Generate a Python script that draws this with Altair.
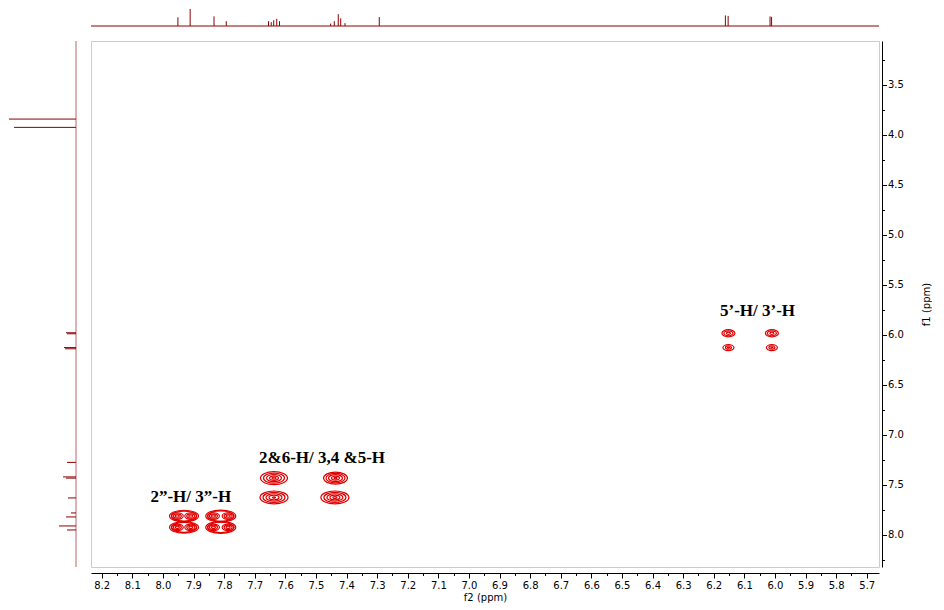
import altair as alt
import pandas as pd

# ---------------- data ----------------
F2_DOMAIN = [5.66, 8.235]     # ppm, shown reversed (high ppm on the left)
F1_DOMAIN = [3.065, 8.32]     # ppm, shown top -> bottom

# top 1D projection (f2): peak positions (ppm) and heights (arb.)
top_ppm = [7.951, 7.911, 7.833, 7.793,
           7.655, 7.646, 7.638, 7.628, 7.619,
           7.452, 7.440, 7.427, 7.419, 7.405,
           7.293, 6.162, 6.153, 6.016, 6.011]
top_int = [9.0, 17.7, 10.0, 5.0,
           5.0, 4.0, 6.0, 7.5, 5.0,
           2.5, 5.0, 12.3, 8.0, 3.0,
           9.3, 11.0, 10.5, 10.0, 9.5]

# left 1D projection (f1)
left_ppm = [3.845, 3.928, 5.980, 5.990, 6.128, 6.140, 7.275,
            7.420, 7.432, 7.630, 7.780, 7.820, 7.910, 7.950]
left_int = [67, 62, 10, 9, 12, 11, 9,
            13, 10, 8, 5, 10, 17, 9]

# COSY cross peaks: centre f2, centre f1, contour aspect, contour widths
cp_f2 = [7.637, 7.637, 7.436, 7.438,
         6.152, 6.010, 6.152, 6.010,
         7.931, 7.931, 7.811, 7.811,
         7.953, 7.909, 7.953, 7.909, 7.835, 7.787, 7.835, 7.787]
cp_f1 = [7.432, 7.625, 7.432, 7.625,
         5.985, 5.985, 6.128, 6.128,
         7.811, 7.924, 7.811, 7.924,
         7.811, 7.811, 7.924, 7.924, 7.811, 7.811, 7.924, 7.924]
cp_aspect = [0.48, 0.46, 0.50, 0.46,
             0.55, 0.55, 0.55, 0.55,
             0.40, 0.40, 0.40, 0.40,
             0.55, 0.55, 0.55, 0.55, 0.55, 0.55, 0.55, 0.55]
cp_levels = [[27, 21, 15, 9, 4], [28, 22, 16, 10, 3], [24, 19, 14, 8, 3], [28, 22, 16, 10, 4],
             [13, 9, 4], [13, 9, 4], [11, 6, 2], [11, 6, 2],
             [29, 25], [29, 25], [30, 26], [30, 26],
             [12, 8, 4], [12, 8, 4], [12, 8, 4], [12, 8, 4],
             [12, 8, 4], [12, 8, 4], [12, 8, 4], [12, 8, 4]]

lab_text = ["2\u201d-H/ 3\u201d-H", "2&6-H/ 3,4 &5-H", "5\u2019-H/ 3\u2019-H"]
lab_f2 = [7.909, 7.480, 6.057]
lab_f1 = [7.624, 7.234, 5.760]

# axis ticks: labelled (major) and unlabelled (minor)
x_major = [8.2, 8.1, 8.0, 7.9, 7.8, 7.7, 7.6, 7.5, 7.4, 7.3, 7.2, 7.1, 7.0, 6.9,
           6.8, 6.7, 6.6, 6.5, 6.4, 6.3, 6.2, 6.1, 6.0, 5.9, 5.8, 5.7]
x_minor = [8.15, 8.05, 7.95, 7.85, 7.75, 7.65, 7.55, 7.45, 7.35, 7.25, 7.15, 7.05,
           6.95, 6.85, 6.75, 6.65, 6.55, 6.45, 6.35, 6.25, 6.15, 6.05, 5.95, 5.85, 5.75]
y_major = [3.5, 4.0, 4.5, 5.0, 5.5, 6.0, 6.5, 7.0, 7.5, 8.0]
y_minor = [3.25, 3.75, 4.25, 4.75, 5.25, 5.75, 6.25, 6.75, 7.25, 7.75, 8.25]

# ---------------- tables ----------------
top_df = pd.DataFrame({"ppm": top_ppm, "int": top_int})
left_df = pd.DataFrame({"ppm": left_ppm, "int": left_int})
zero_df = pd.DataFrame({"z": [0]})

rows = []
for f2, f1, a, lev in zip(cp_f2, cp_f1, cp_aspect, cp_levels):
    path = f"M-1,0A1,{a},0,0,1,1,0A1,{a},0,0,1,-1,0Z"
    for w in lev:
        rows.append({"f2": f2, "f1": f1, "s": w * w, "shape": path})
ring_df = pd.DataFrame(rows)
lab_df = pd.DataFrame({"f2": lab_f2, "f1": lab_f1, "t": lab_text})

SPEC = "#8b0000"
CONT = "#e00000"
W_MAIN, H_MAIN = 788, 526
W_LEFT, H_TOP = 68, 17
TOP_MAX = max(top_int)

xs = alt.Scale(domain=F2_DOMAIN, reverse=True, nice=False, zero=False)
ys = alt.Scale(domain=F1_DOMAIN, reverse=True, nice=False, zero=False)

common = dict(grid=False, domainColor="black", tickColor="black", labelColor="black",
              labelFont="DejaVu Sans", labelFontSize=10, labelFlush=False,
              titleFont="DejaVu Sans", titleFontSize=10, titleFontWeight="normal",
              titleColor="black")

x_axis = alt.Axis(orient="bottom", values=x_major, format=".1f", tickSize=5, offset=6,
                  labelPadding=2, title="f2 (ppm)", titlePadding=2, **common)
y_axis = alt.Axis(orient="right", values=y_major, format=".1f", tickSize=4.5, offset=3,
                  labelPadding=1, title="f1 (ppm)", titleAngle=270, titlePadding=28, **common)
x_axis_minor = alt.Axis(orient="bottom", values=x_minor, tickSize=2.5, offset=6, labels=False,
                        domain=False, title=None, grid=False, tickColor="black")
y_axis_minor = alt.Axis(orient="right", values=y_minor, tickSize=2.5, offset=3, labels=False,
                        domain=False, title=None, grid=False, tickColor="black")

rings = alt.Chart(ring_df).mark_point(filled=False, color=CONT, strokeWidth=1.2, opacity=1).encode(
    x=alt.X("f2:Q", scale=xs, axis=x_axis),
    y=alt.Y("f1:Q", scale=ys, axis=y_axis),
    size=alt.Size("s:Q", scale=None),
    shape=alt.Shape("shape:N", scale=None),
)
minor = alt.Chart(lab_df).mark_point(opacity=0, size=0).encode(
    x=alt.X("f2:Q", scale=xs, axis=x_axis_minor),
    y=alt.Y("f1:Q", scale=ys, axis=y_axis_minor),
)
labels = alt.Chart(lab_df).mark_text(
    font="Liberation Serif", fontWeight="bold", fontSize=17, color="black",
    align="center", baseline="middle").encode(
    x=alt.X("f2:Q", scale=xs, axis=None), y=alt.Y("f1:Q", scale=ys, axis=None), text="t:N")

main = alt.layer(rings, minor, labels).resolve_axis(x="independent", y="independent").properties(
    width=W_MAIN, height=H_MAIN,
    view=alt.ViewBackground(stroke="#cccccc", strokeWidth=1))

top_y = alt.Scale(domain=[0, TOP_MAX], nice=False)
top_sticks = alt.Chart(top_df).mark_rule(color=SPEC, strokeWidth=1).encode(
    x=alt.X("ppm:Q", scale=xs, axis=None),
    y=alt.Y("int:Q", scale=top_y, axis=None),
    y2=alt.datum(0))
top_base = alt.Chart(zero_df).mark_rule(color=SPEC, strokeWidth=1).encode(
    y=alt.Y("z:Q", scale=top_y, axis=None))
top = alt.layer(top_base, top_sticks).properties(width=W_MAIN, height=H_TOP)

left_x = alt.Scale(domain=[0, W_LEFT], reverse=True, nice=False)
left_sticks = alt.Chart(left_df).mark_rule(color=SPEC, strokeWidth=1).encode(
    y=alt.Y("ppm:Q", scale=ys, axis=None),
    x=alt.X("int:Q", scale=left_x, axis=None),
    x2=alt.datum(0))
left_base = alt.Chart(zero_df).mark_rule(color=SPEC, strokeWidth=1, opacity=0.6).encode(
    x=alt.X("z:Q", scale=left_x, axis=None))
left = alt.layer(left_base, left_sticks).properties(width=W_LEFT, height=H_MAIN)

spacer = alt.Chart(zero_df).mark_point(opacity=0, size=0).encode(
    x=alt.X("z:Q", axis=None), y=alt.Y("z:Q", axis=None)).properties(width=W_LEFT, height=H_TOP)

chart = alt.concat(spacer, top, left, main, columns=2, spacing=15,
                   align="each", bounds="flush").properties(
    padding=0, background="white"
).configure_view(stroke=None)

chart.save("out.html", embed_options={"renderer": "svg", "actions": False})
